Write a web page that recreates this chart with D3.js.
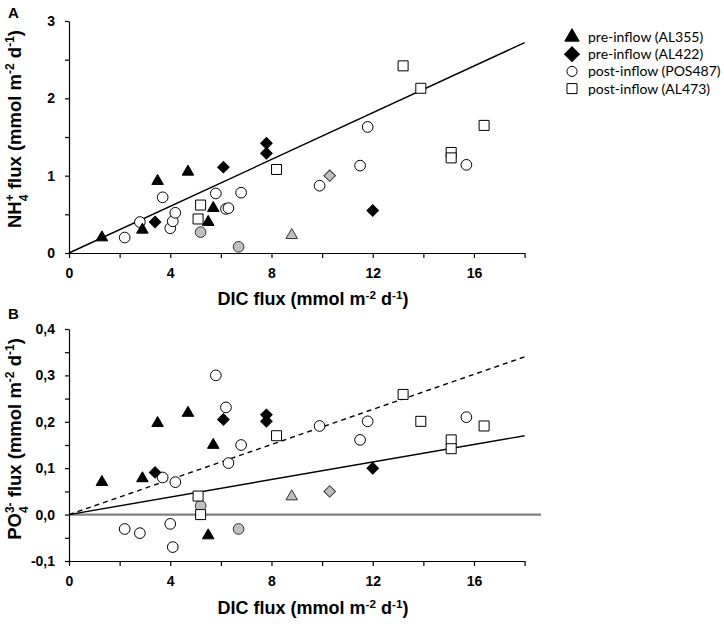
<!DOCTYPE html>
<html><head><meta charset="utf-8">
<script src="https://cdn.jsdelivr.net/npm/d3@7"></script>
<style>
body{margin:0;background:#fff;}
svg{display:block;}
</style></head>
<body><svg id="c" width="724" height="624"></svg>
<script>
// ---- data ----
const al355Dic = [1.3, 2.9, 3.5, 4.7, 5.7, 5.5];
const al355Nh4 = [0.20, 0.30, 0.93, 1.05, 0.58, 0.40];
const al355Po4 = [0.070, 0.078, 0.197, 0.219, 0.150, -0.045];
const al355GrayDic = [8.8];
const al355GrayNh4 = [0.23];
const al355GrayPo4 = [0.039];

const al422Dic = [3.4, 6.1, 7.8, 7.8, 12.0];
const al422Nh4 = [0.40, 1.11, 1.42, 1.29, 0.55];
const al422Po4 = [0.091, 0.205, 0.215, 0.201, 0.100];
const al422GrayDic = [10.3];
const al422GrayNh4 = [1.00];
const al422GrayPo4 = [0.050];

const pos487Dic = [2.2, 2.8, 3.7, 4.0, 4.1, 4.2, 5.8, 6.2, 6.3, 6.8, 9.9, 11.5, 11.8, 15.7];
const pos487Nh4 = [0.20, 0.40, 0.72, 0.32, 0.41, 0.52, 0.77, 0.57, 0.58, 0.78, 0.87, 1.13, 1.63, 1.14];
const pos487Po4 = [-0.031, -0.040, 0.080, -0.020, -0.070, 0.070, 0.300, 0.231, 0.111, 0.150, 0.191, 0.161, 0.201, 0.210];
const pos487GrayDic = [5.2, 6.7];
const pos487GrayNh4 = [0.27, 0.08];
const pos487GrayPo4 = [0.019, -0.031];

const al473Dic = [5.1, 5.2, 8.2, 13.2, 13.9, 15.1, 15.1, 16.4];
const al473Nh4 = [0.44, 0.62, 1.08, 2.42, 2.13, 1.30, 1.23, 1.65];
const al473Po4 = [0.040, 0.000, 0.170, 0.259, 0.201, 0.161, 0.142, 0.191];

const fitA = [[0, 0], [18, 2.72]];
const fitBSolid = [[0, 0], [18, 0.170]];
const fitBDashed = [[0, 0], [18, 0.340]];
const zeroLineB = [[0, 0], [18.65, 0]];

const xTicks = [0, 2, 4, 6, 8, 10, 12, 14, 16, 18];
const xTickLabels = [0, 4, 8, 12, 16];
const yTicksA = [0, 0.5, 1, 1.5, 2, 2.5, 3];
const yTickLabelsA = [0, 1, 2, 3];
const yTicksB = [-0.1, -0.05, 0, 0.05, 0.1, 0.15, 0.2, 0.25, 0.3, 0.35, 0.4];
const yTickLabelsB = [-0.1, 0, 0.1, 0.2, 0.3, 0.4];

const legendLabels = ["pre-inflow (AL355)", "pre-inflow (AL422)", "post-inflow (POS487)", "post-inflow (AL473)"];
const legendShapes = ["triangle", "diamond", "circle", "square"];

// ---- drawing ----
const svg = d3.select("#c");
const GRAY = "#bfbfbf";
const x = d3.scaleLinear().domain([0, 18]).range([69, 524.6]);
const yA = d3.scaleLinear().domain([0, 3]).range([253, 21]);
const yB = d3.scaleLinear().domain([-0.1, 0.4]).range([561, 329]);

const shapePath = {
  triangle: d3.symbol().type(d3.symbolTriangle).size(58)(),
  circle: d3.symbol().type(d3.symbolCircle).size(90)(),
  square: d3.symbol().type(d3.symbolSquare).size(100)(),
  diamond: d3.symbol().type(d3.symbolSquare).size(66)()
};

function drawAxes(y, yTicks, yLabels, fmt) {
  const gx = svg.append("g").attr("transform", `translate(0,${y.range()[0]})`)
    .call(d3.axisBottom(x).tickValues(xTicks).tickSize(5).tickSizeOuter(0).tickPadding(10)
      .tickFormat(d => xTickLabels.includes(d) ? d : ""));
  const gy = svg.append("g").attr("transform", `translate(${x(0)},0)`)
    .call(d3.axisLeft(y).tickValues(yTicks).tickSize(4).tickSizeOuter(0).tickPadding(10)
      .tickFormat(d => yLabels.some(v => Math.abs(v - d) < 1e-9) ? fmt(d) : ""));
  [gx, gy].forEach(g => {
    g.selectAll("path,line").attr("stroke", "#000").attr("stroke-width", 1.2);
    g.selectAll("text").attr("fill", "#000").attr("font-family", "Liberation Sans, Arial, sans-serif")
      .attr("font-weight", "bold").attr("font-size", 14);
  });
}

function drawSeries(y, dic, vals, shape, fill, stroke) {
  svg.append("g").selectAll("path").data(dic.map((d, i) => [d, vals[i]])).join("path")
    .attr("d", shapePath[shape])
    .attr("transform", d => `translate(${x(d[0])},${y(d[1])})` + (shape === "diamond" ? " rotate(45)" : ""))
    .attr("fill", fill).attr("stroke", stroke).attr("stroke-width", 1);
}

const line = (y) => d3.line().x(d => x(d[0])).y(d => y(d[1]));

// Panel A
drawAxes(yA, yTicksA, yTickLabelsA, d => d);
svg.append("path").datum(fitA).attr("d", line(yA)).attr("stroke", "#000").attr("stroke-width", 1.4).attr("fill", "none");

function drawAll(y, key) {
  const pick = (a, b) => key === "A" ? a : b;
  drawSeries(y, pos487GrayDic, pick(pos487GrayNh4, pos487GrayPo4), "circle", GRAY, "#333");
  drawSeries(y, al355GrayDic, pick(al355GrayNh4, al355GrayPo4), "triangle", GRAY, "#333");
  drawSeries(y, al422GrayDic, pick(al422GrayNh4, al422GrayPo4), "diamond", GRAY, "#333");
  drawSeries(y, pos487Dic, pick(pos487Nh4, pos487Po4), "circle", "#fff", "#000");
  drawSeries(y, al473Dic, pick(al473Nh4, al473Po4), "square", "#fff", "#000");
  drawSeries(y, al355Dic, pick(al355Nh4, al355Po4), "triangle", "#000", "#000");
  drawSeries(y, al422Dic, pick(al422Nh4, al422Po4), "diamond", "#000", "#000");
}
drawAll(yA, "A");

// Panel B
const commaFmt = d => d3.format(".1f")(d).replace(".", ",").replace("−", "-");
drawAxes(yB, yTicksB, yTickLabelsB, commaFmt);
svg.append("path").datum(zeroLineB).attr("d", line(yB)).attr("stroke", "#808080").attr("stroke-width", 2.2).attr("fill", "none");
svg.append("path").datum(fitBSolid).attr("d", line(yB)).attr("stroke", "#000").attr("stroke-width", 1.4).attr("fill", "none");
svg.append("path").datum(fitBDashed).attr("d", line(yB)).attr("stroke", "#000").attr("stroke-width", 1.4)
  .attr("stroke-dasharray", "5,4").attr("fill", "none");
drawAll(yB, "B");

// Titles
const TF = "Liberation Sans, Arial, sans-serif";
function richText(g, parts) {
  parts.forEach(p => {
    const t = g.append("tspan").text(p[0]);
    if (p[1] === "sup") t.attr("font-size", "65%").attr("baseline-shift", "super");
    if (p[1] === "sub") t.attr("font-size", "65%").attr("baseline-shift", "sub");
    if (p[2] !== undefined) t.attr("dx", p[2]);
  });
}
function xTitle(yPos) {
  const t = svg.append("text").attr("x", 313).attr("y", yPos).attr("text-anchor", "middle")
    .attr("font-family", TF).attr("font-weight", "bold").attr("font-size", 18).attr("fill", "#000");
  richText(t, [["DIC flux (mmol m"], ["-2", "sup"], [" d"], ["-1", "sup"], [")"]]);
}
xTitle(305);
xTitle(614);

function yTitle(cy, parts) {
  const t = svg.append("text").attr("transform", `translate(21,${cy}) rotate(-90)`).attr("text-anchor", "middle")
    .attr("font-family", TF).attr("font-weight", "bold").attr("font-size", 18.5).attr("fill", "#000");
  richText(t, parts);
}
yTitle(129, [["NH"], ["4", "sub"], ["+", "sup", -6.7], [" flux (mmol m"], ["-2", "sup"], [" d"], ["-1", "sup"], [")"]]);
yTitle(439, [["PO"], ["4", "sub"], ["3-", "sup", -6.7], [" flux (mmol m"], ["-2", "sup"], [" d"], ["-1", "sup"], [")"]]);

svg.append("text").attr("x", 8).attr("y", 18).text("A").attr("font-family", TF).attr("font-weight", "bold").attr("font-size", 15);
svg.append("text").attr("x", 8).attr("y", 319).text("B").attr("font-family", TF).attr("font-weight", "bold").attr("font-size", 15);

// Legend
const lg = svg.append("g");
legendLabels.forEach((lab, i) => {
  const cy = 37 + i * 17.2;
  const shape = legendShapes[i];
  const filled = i < 2;
  const sz = shape === "triangle" ? 90 : shape === "diamond" ? 110 : shape === "circle" ? 80 : 100;
  lg.append("path").attr("d", d3.symbol().type(shape === "triangle" ? d3.symbolTriangle : shape === "circle" ? d3.symbolCircle : d3.symbolSquare).size(sz)())
    .attr("transform", `translate(572,${cy})` + (shape === "diamond" ? " rotate(45)" : ""))
    .attr("fill", filled ? "#000" : "#fff").attr("stroke", "#000").attr("stroke-width", 1);
  lg.append("text").attr("x", 588).attr("y", cy).attr("dy", "0.35em").text(lab)
    .attr("font-family", "Lato, sans-serif").attr("font-size", 14).attr("fill", "#000");
});
</script></body></html>
